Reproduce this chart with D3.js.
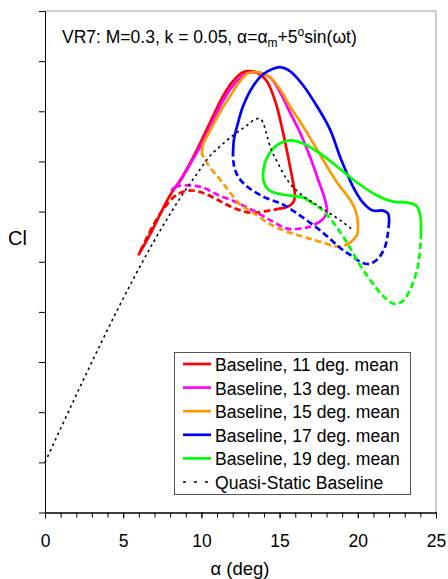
<!DOCTYPE html>
<html>
<head>
<meta charset="utf-8">
<script src="https://cdn.jsdelivr.net/npm/d3@7"></script>
<style>
  body { margin: 0; background: #fff; }
  svg { display: block; font-family: "Liberation Sans", Arial, sans-serif; }
</style>
</head>
<body>
<section></section>
<script>
// [alpha (deg), Cl]; "Up" = solid part, "Down" = dashed part
var red11Up = [[6.0,0.83],[6.71,0.908],[7.35,0.988],[7.99,1.064],[8.76,1.136],[9.40,1.208],[10.04,1.288],[10.74,1.38],[11.38,1.46],[12.02,1.52],[12.66,1.556],[13.11,1.56],[13.62,1.552],[14.19,1.52],[14.77,1.43],[15.22,1.316],[15.54,1.22],[15.79,1.14],[15.96,1.08],[15.98,1.06],[15.86,1.036],[15.54,1.02],[15.03,1.012]];
var red11Down = [[15.03,1.012],[13.94,1.0],[13.11,0.996],[12.02,1.016],[11.0,1.048],[10.04,1.076],[9.27,1.084],[8.44,1.068],[7.54,1.008],[6.84,0.936],[6.39,0.88],[6.0,0.83]];

var mag13Up = [[8.12,1.088],[8.44,1.104],[8.82,1.14],[9.46,1.208],[10.17,1.288],[10.87,1.38],[11.51,1.456],[12.15,1.512],[12.79,1.548],[13.30,1.556],[13.87,1.552],[14.39,1.536],[15.03,1.476],[15.66,1.396],[16.30,1.316],[16.94,1.22],[17.46,1.128],[17.90,1.048],[18.03,1.004],[17.90,0.98],[17.58,0.96]];
var mag13Down = [[17.58,0.96],[16.94,0.94],[16.30,0.932],[15.47,0.932],[14.58,0.96],[13.55,0.996],[12.28,1.036],[11.0,1.068],[10.10,1.096],[9.27,1.104],[8.44,1.10],[8.12,1.088]];

var org15Up = [[10.04,1.228],[10.10,1.268],[10.36,1.30],[11.19,1.396],[11.83,1.46],[12.47,1.52],[12.98,1.552],[13.43,1.556],[13.87,1.552],[14.39,1.536],[15.03,1.488],[15.66,1.42],[16.50,1.34],[17.39,1.248],[18.22,1.16],[18.86,1.10],[19.50,1.048],[19.88,1.0],[20.01,0.948],[19.95,0.908],[19.50,0.876]];
var org15Down = [[19.50,0.876],[18.86,0.86],[17.58,0.88],[16.50,0.90],[15.47,0.92],[14.39,0.95],[13.30,0.996],[12.47,1.028],[11.83,1.076],[11.19,1.128],[10.55,1.176],[10.23,1.208],[10.04,1.228]];

var blu17Up = [[12.02,1.228],[12.08,1.288],[12.28,1.34],[12.66,1.42],[13.30,1.50],[13.94,1.548],[14.51,1.568],[15.03,1.576],[15.66,1.56],[16.50,1.504],[17.39,1.42],[18.22,1.328],[18.93,1.208],[19.69,1.10],[20.33,1.036],[20.97,1.004],[21.61,1.004],[21.93,0.992],[22.0,0.96]];
var blu17Down = [[22.0,0.96],[21.93,0.916],[21.74,0.86],[21.29,0.812],[20.78,0.792],[20.27,0.796],[19.69,0.82],[18.86,0.856],[17.77,0.916],[16.50,0.976],[15.22,1.028],[13.94,1.06],[12.92,1.10],[12.34,1.14],[12.08,1.184],[12.02,1.228]];

var grn19Up = [[16.94,1.04],[16.50,1.056],[15.66,1.064],[14.83,1.072],[14.26,1.088],[14.0,1.116],[13.94,1.148],[14.07,1.196],[14.39,1.236],[14.90,1.268],[15.66,1.284],[16.50,1.272],[17.58,1.232],[18.67,1.18],[19.95,1.116],[21.23,1.064],[22.25,1.04],[23.15,1.036],[23.72,1.024],[23.98,0.988],[24.04,0.916]];
var grn19Down = [[24.04,0.916],[23.98,0.848],[23.79,0.768],[23.34,0.688],[22.89,0.644],[22.31,0.632],[21.61,0.664],[20.78,0.728],[20.01,0.80],[19.31,0.876],[18.67,0.936],[18.03,0.988],[17.46,1.02],[16.94,1.04]];

var quasiStatic = [[0,0],[9.27,1.112],[9.91,1.168],[10.36,1.208],[11.19,1.26],[12.02,1.304],[12.92,1.344],[13.43,1.368],[13.68,1.372],[13.94,1.356],[14.13,1.316],[14.39,1.26],[14.83,1.20],[15.47,1.128],[16.30,1.072],[17.14,1.036],[18.03,1.0],[18.73,0.972],[19.57,0.932]];

var legendNames = ['Baseline, 11 deg. mean','Baseline, 13 deg. mean','Baseline, 15 deg. mean','Baseline, 17 deg. mean','Baseline, 19 deg. mean','Quasi-Static Baseline'];
var colors = ['#ff0000','#ff00ff','#ff9900','#0000ff','#00ff00'];
var xTicks = [0,5,10,15,20,25];
var xMinorTicks = d3.range(0, 26, 1);
var yTicks = [-0.2,0,0.2,0.4,0.6,0.8,1.0,1.2,1.4,1.6,1.8];

var width = 448, height = 579;
var plotLeft = 45, plotRight = 436, plotTop = 11, plotBottom = 512.5;

var svg = d3.select('section').append('svg')
    .attr('width', width)
    .attr('height', height);

var xScale = d3.scaleLinear().domain([0, 25]).range([plotLeft, plotRight]);
var yScale = d3.scaleLinear().domain([-0.2, 1.8]).range([plotBottom, plotTop]);

// grey frame on top / right
svg.append('line').attr('x1', plotLeft).attr('x2', plotRight).attr('y1', plotTop).attr('y2', plotTop)
    .attr('stroke', '#9a9a9a').attr('stroke-width', 1);
svg.append('line').attr('x1', plotRight).attr('x2', plotRight).attr('y1', plotTop).attr('y2', plotBottom)
    .attr('stroke', '#9a9a9a').attr('stroke-width', 1);

// axes
var yAxis = d3.axisLeft(yScale).tickValues(yTicks).tickSize(6).tickSizeOuter(0).tickFormat('');
svg.append('g').attr('transform', 'translate(' + plotLeft + ',0)').call(yAxis);

var xMinor = d3.axisBottom(xScale).tickValues(xMinorTicks).tickSize(5).tickSizeOuter(0).tickFormat('');
svg.append('g').attr('transform', 'translate(0,' + plotBottom + ')').call(xMinor);

var xAxis = d3.axisBottom(xScale).tickValues(xTicks).tickSize(6).tickSizeOuter(0).tickFormat(d3.format('d'));
var gx = svg.append('g').attr('transform', 'translate(0,' + plotBottom + ')').call(xAxis);
gx.selectAll('text')
    .attr('y', 34).attr('dy', null)
    .attr('font-size', 17.5)
    .attr('font-family', '"Liberation Sans", Arial, sans-serif')
    .attr('fill', '#000');

svg.selectAll('.domain, .tick line').attr('stroke', '#000').attr('stroke-width', 1);

// lines
var line = d3.line()
    .x(d => xScale(d[0]))
    .y(d => yScale(d[1]))
    .curve(d3.curveCatmullRom.alpha(0.5));

var loops = [
    [red11Up, red11Down],
    [mag13Up, mag13Down],
    [org15Up, org15Down],
    [blu17Up, blu17Down],
    [grn19Up, grn19Down]
];

var plot = svg.append('g');
loops.forEach(function(l, i) {
    plot.append('path')
        .attr('d', line(l[1]))
        .attr('fill', 'none')
        .attr('stroke', colors[i])
        .attr('stroke-width', 2.7)
        .attr('stroke-dasharray', '6.5,3.5');
    plot.append('path')
        .attr('d', line(l[0]))
        .attr('fill', 'none')
        .attr('stroke', colors[i])
        .attr('stroke-width', 2.7)
        .attr('stroke-linecap', 'round');
});

var qsLine = d3.line()
    .x(d => xScale(d[0]))
    .y(d => yScale(d[1]))
    .curve(d3.curveMonotoneX);

plot.append('path')
    .attr('d', qsLine(quasiStatic))
    .attr('fill', 'none')
    .attr('stroke', '#000')
    .attr('stroke-width', 1.6)
    .attr('stroke-dasharray', '2.5,3.5');

// title
var title = svg.append('text')
    .attr('x', 62).attr('y', 43)
    .attr('font-size', 17.5)
    .attr('fill', '#000');
title.append('tspan').text('VR7: M=0.3, k = 0.05, \u03b1=\u03b1');
title.append('tspan').attr('dy', 4).attr('font-size', 12).text('m');
title.append('tspan').attr('dy', -4).text('+5');
title.append('tspan').attr('dy', -7).attr('font-size', 12).text('o');
title.append('tspan').attr('dy', 7).text('sin(\u03c9t)');

// axis titles
svg.append('text').attr('x', 8).attr('y', 245)
    .attr('font-size', 20).attr('fill', '#000').text('Cl');
svg.append('text').attr('x', 240).attr('y', 575)
    .attr('text-anchor', 'middle')
    .attr('font-size', 18.5).attr('fill', '#000').text('\u03b1 (deg)');

// legend
var legend = svg.append('g');
legend.append('rect')
    .attr('x', 174.5).attr('y', 352.5)
    .attr('width', 236).attr('height', 142)
    .attr('fill', '#fff')
    .attr('stroke', '#555').attr('stroke-width', 1);

legendNames.forEach(function(name, i) {
    var by = 371 + i * 23.6;
    legend.append('line')
        .attr('x1', 183).attr('x2', 211)
        .attr('y1', by - 7).attr('y2', by - 7)
        .attr('stroke', i < 5 ? colors[i] : '#000')
        .attr('stroke-width', i < 5 ? 2.7 : 1.6)
        .attr('stroke-dasharray', i < 5 ? null : '3,8');
    legend.append('text')
        .attr('x', 215).attr('y', by)
        .attr('font-size', 17.6)
        .attr('fill', '#000')
        .text(name);
});
</script>
</body>
</html>
